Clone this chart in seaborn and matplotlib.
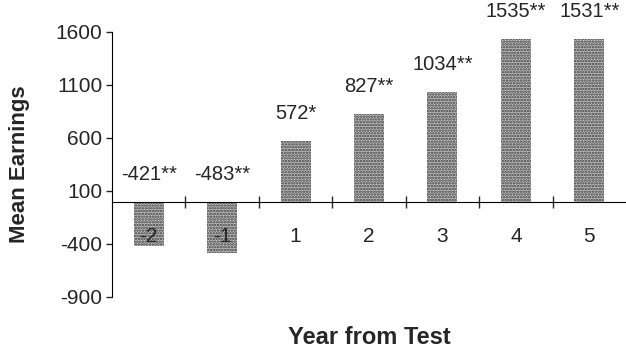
import matplotlib
matplotlib.use("Agg")
import matplotlib.pyplot as plt
import seaborn as sns

sns.set_style("white")
plt.rcParams['font.family'] = ['Liberation Sans', 'DejaVu Sans']
plt.rcParams['axes.unicode_minus'] = False
plt.rcParams['hatch.linewidth'] = 1.2

# Data
years = ["-2", "-1", "1", "2", "3", "4", "5"]
earnings = [-421, -483, 572, 827, 1034, 1535, 1531]
labels = ["-421**", "-483**", "572*", "827**", "1034**", "1535**", "1531**"]
yticks = [-900, -400, 100, 600, 1100, 1600]

fig = plt.figure(figsize=(6.26, 3.51), dpi=100)
ax = fig.add_axes([0.179, 0.154, 0.821, 0.755])

sns.barplot(x=years, y=earnings, order=years, width=0.41,
            color="#c0c0c0", saturation=1, ax=ax)
for p in ax.patches:
    p.set_hatch("......")
    p.set_edgecolor("#3a3a3a")
    p.set_linewidth(0)
    p.set_zorder(0.5)

# value labels above each bar (or above the zero line for negatives)
for i, (v, lab) in enumerate(zip(earnings, labels)):
    ax.annotate(lab, (i, max(v, 0)), xytext=(0, 22), textcoords="offset pixels",
                ha="center", va="baseline", fontsize=14.5, clip_on=False,
                annotation_clip=False)

ax.set_xlim(-0.5, 6.5)
ax.set_ylim(-900, 1600)
ax.set_yticks(yticks)
ax.tick_params(axis="y", direction="out", length=4, width=1, labelsize=15, left=True, pad=3)

ax.spines["top"].set_visible(False)
ax.spines["right"].set_visible(False)
ax.spines["bottom"].set_position(("data", 0))
ax.spines["left"].set_color("black")
ax.spines["bottom"].set_color("black")

ax.set_xticks(range(len(years)))
ax.set_xticklabels(years)
ax.set_xticks([i + 0.5 for i in range(len(years) - 1)], minor=True)
ax.tick_params(axis="x", which="major", length=0, labelsize=15, pad=18)
ax.tick_params(axis="x", which="minor", direction="inout", length=9, width=1, bottom=True)

ax.set_xlabel("Year from Test", fontsize=17, fontweight="bold")
ax.set_ylabel("Mean Earnings", fontsize=16, fontweight="bold")
ax.xaxis.set_label_coords(0.5, -0.11)
ax.yaxis.set_label_coords(-0.16, 0.5)

fig.savefig("out.png", dpi=100)
